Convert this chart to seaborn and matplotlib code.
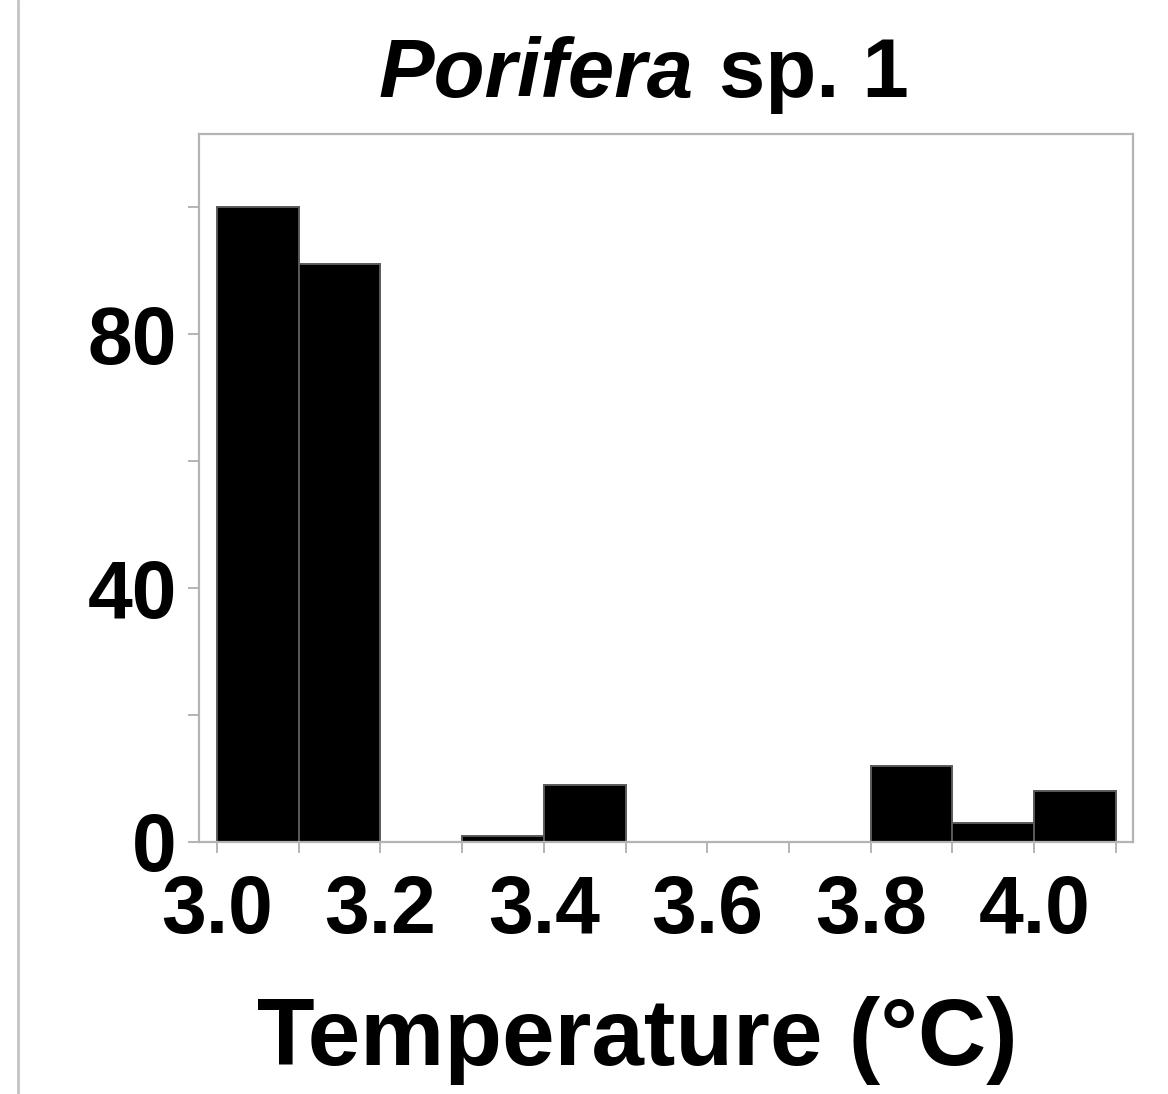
import numpy as np
import pandas as pd
import matplotlib
matplotlib.use("Agg")
import matplotlib.pyplot as plt
from matplotlib.lines import Line2D
import seaborn as sns

# Bin edges (°C) and number of records in each 0.1 °C bin
bin_edges = [3.0, 3.1, 3.2, 3.3, 3.4, 3.5, 3.6, 3.7, 3.8, 3.9, 4.0, 4.1]
bin_counts = [100, 91, 0, 1, 9, 0, 0, 0, 12, 3, 8]
x_tick_labels = ["3.0", "", "3.2", "", "3.4", "", "3.6", "", "3.8", "", "4.0", ""]
y_tick_labels = ["0", "", "40", "", "80", ""]

sns.set_theme(style="white")
plt.rcParams["font.family"] = ["Liberation Sans", "DejaVu Sans"]
plt.rcParams["text.color"] = "black"
plt.rcParams["axes.labelcolor"] = "black"

centers = [(a + b) / 2 for a, b in zip(bin_edges[:-1], bin_edges[1:])]
df = pd.DataFrame({"temperature": centers, "count": bin_counts})

W, H = 1168, 1094
fig = plt.figure(figsize=(W / 100, H / 100), dpi=100)
ax = fig.add_axes([199 / W, 1 - 842 / H, (1133 - 199) / W, (842 - 134) / H])

sns.histplot(data=df, x="temperature", weights="count", bins=bin_edges,
             color="black", edgecolor="#5a5a5a", linewidth=1.4, alpha=1.0,
             ax=ax)

ax.set_xlim(2.978, 4.121)
ax.set_ylim(0, 111.5)

ax.set_xticks(np.round(np.arange(3.0, 4.11, 0.1), 1))
ax.set_xticklabels(x_tick_labels)
ax.set_yticks([0, 20, 40, 60, 80, 100])
ax.set_yticklabels(y_tick_labels)

spine_col = "#b4b4b4"
for s in ax.spines.values():
    s.set_color(spine_col)
    s.set_linewidth(1.6)
ax.tick_params(axis="both", which="major", color=spine_col, width=1.4,
               length=8, labelsize=58, labelcolor="black", bottom=True, left=True)
ax.tick_params(axis="x", pad=15)
ax.tick_params(axis="y", pad=8)
for lab in ax.get_xticklabels() + ax.get_yticklabels():
    lab.set_fontweight("bold")

ax.set_ylabel("")
ax.set_xlabel("Temperature (°C)", fontsize=68, fontweight="bold", color="black")
ax.xaxis.set_label_coords((637 - 199) / 934, (842 - 1065) / 708)
ax.xaxis.label.set_verticalalignment("baseline")

# Title with italic genus name
fig.text(694 / W, 1 - 97 / H, "Porifera", fontsize=60, fontweight="bold",
         fontstyle="italic", ha="right", va="baseline", color="black")
fig.text(719 / W, 1 - 97 / H, "sp. 1", fontsize=60, fontweight="bold",
         ha="left", va="baseline", color="black")

# Thin panel separator at the left edge
fig.add_artist(Line2D([18 / W, 18 / W], [0, 1], transform=fig.transFigure,
                      color="#c4c4c4", linewidth=2))

fig.savefig("out.png", dpi=100)
